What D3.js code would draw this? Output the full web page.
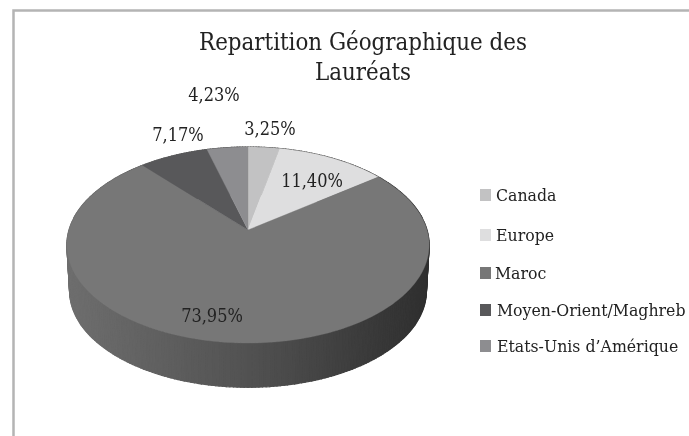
<!DOCTYPE html>
<html>
<head>
<meta charset="utf-8">
<script src="https://cdnjs.cloudflare.com/ajax/libs/d3/7.8.5/d3.min.js"></script>
<style>
  html, body { margin: 0; padding: 0; background: #fff; overflow: hidden; }
  svg { display: block; filter: blur(0.45px); }
  text { font-family: "DejaVu Serif", serif; font-stretch: condensed; fill: #222; }
</style>
</head>
<body>
<div id="chart"></div>
<script>
// data
var categories = ["Canada", "Europe", "Maroc", "Moyen-Orient/Maghreb", "Etats-Unis d’Amérique"];
var values = [3.25, 11.40, 73.95, 7.17, 4.23];
var valueLabels = ["3,25%", "11,40%", "73,95%", "7,17%", "4,23%"];
var titleLines = ["Repartition Géographique des", "Lauréats"];
var colors = ["#c2c2c3", "#dededf", "#777777", "#58585a", "#8d8d90"];

var width = 689, height = 436;

var svg = d3.select("#chart")
  .append("svg")
  .attr("width", width)
  .attr("height", height);

svg.append("rect").attr("width", width).attr("height", height).attr("fill", "#fff");

// chart frame, only top and left are visible
svg.append("path")
  .attr("d", "M13.5," + height + "V10.5H" + width)
  .attr("fill", "none")
  .attr("stroke", "#b4b4b4")
  .attr("stroke-width", 2.5);

// the tilted pie: a circle seen in perspective, the apex is not the middle of the ellipse
var cx = 248, cy = 230, R = 179, tilt = 95.7, persp = 0.153, depth = 46;

function project(angle, shrink, drop) {
  var u = Math.sin(angle), v = Math.cos(angle), w = 1 + persp * v;
  return [cx + shrink * R * u / w, cy - shrink * tilt * v / w + drop];
}

var pie = d3.pie().sort(null).value(function (d) { return d; });
var arcs = pie(values);
var line = d3.line();

// side wall, one thin piece per degree
var sideColor = d3.scaleLinear()
  .domain([cx - 181, cx, cx + 181])
  .range(["#6e6e6e", "#525252", "#2f2f2f"]);

var steps = d3.range(0, 360).map(function (d) { return d * Math.PI / 180; });
var dA = Math.PI / 180;

svg.append("g").selectAll("path")
  .data(steps)
  .enter().append("path")
  .attr("d", function (a) {
    return line([project(a, 1, 0), project(a + dA, 1, 0), project(a + dA, 0.985, depth), project(a, 0.985, depth)]) + "Z";
  })
  .attr("fill", function (a) { return sideColor(project(a, 1, 0)[0]); })
  .attr("stroke", function (a) { return sideColor(project(a, 1, 0)[0]); })
  .attr("stroke-width", 1.2);

// top face slices
svg.append("g").selectAll("path")
  .data(arcs)
  .enter().append("path")
  .attr("d", function (d) {
    var pts = [[cx, cy]];
    var n = Math.ceil((d.endAngle - d.startAngle) / dA);
    d3.range(n + 1).forEach(function (i) {
      pts.push(project(d.startAngle + (d.endAngle - d.startAngle) * i / n, 1, 0));
    });
    return line(pts) + "Z";
  })
  .attr("fill", function (d, i) { return colors[i]; })
  .attr("stroke", function (d, i) { return colors[i]; })
  .attr("stroke-width", 0.4);

// title
svg.append("g").selectAll("text")
  .data(titleLines)
  .enter().append("text")
  .attr("x", 363)
  .attr("y", function (d, i) { return 50 + i * 30; })
  .attr("text-anchor", "middle")
  .attr("font-size", 23.8)
  .text(function (d) { return d; });

// value labels, placed by hand like the original chart
var labelX = [270, 312, 212, 178, 214];
var labelY = [135, 187, 322, 141, 101];

svg.append("g").selectAll("text")
  .data(valueLabels)
  .enter().append("text")
  .attr("x", function (d, i) { return labelX[i]; })
  .attr("y", function (d, i) { return labelY[i]; })
  .attr("text-anchor", "middle")
  .attr("font-size", 18)
  .text(function (d) { return d; });

// legend, rows are not evenly spaced in the original
var legendY = [195, 235, 273, 310, 346];
var legendTextX = [496, 496, 495, 497, 497];

var legend = svg.append("g").selectAll("g")
  .data(categories)
  .enter().append("g");

legend.append("rect")
  .attr("x", 480)
  .attr("y", function (d, i) { return legendY[i] - 6; })
  .attr("width", 11)
  .attr("height", 12)
  .attr("fill", function (d, i) { return colors[i]; });

legend.append("text")
  .attr("x", function (d, i) { return legendTextX[i]; })
  .attr("y", function (d, i) { return legendY[i] + 6; })
  .attr("font-size", 17.5)
  .text(function (d) { return d; });
</script>
</body>
</html>
